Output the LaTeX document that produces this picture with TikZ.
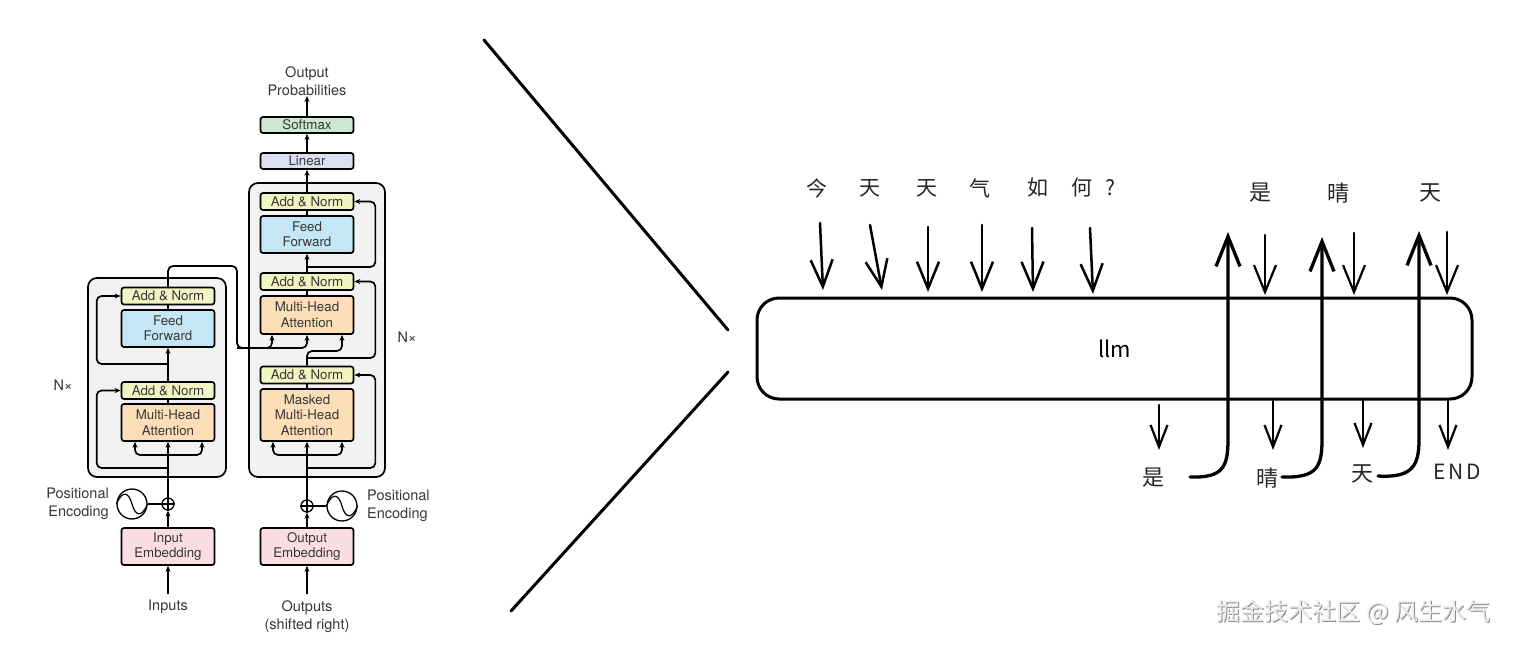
\documentclass[tikz,border=0pt]{standalone}
\usepackage{fontspec}
\setmainfont{TeX Gyre Heros}
\newfontfamily\cjk{Noto Sans CJK SC}
\usetikzlibrary{arrows.meta}
\definecolor{anY}{RGB}{241,245,196}
\definecolor{ffB}{RGB}{196,230,245}
\definecolor{mhO}{RGB}{252,223,184}
\definecolor{emP}{RGB}{250,222,226}
\definecolor{smG}{RGB}{204,232,210}
\definecolor{liV}{RGB}{221,222,240}
\definecolor{bxG}{RGB}{242,242,242}
\definecolor{txt}{RGB}{55,55,55}
\definecolor{wmL}{RGB}{236,236,236}
\definecolor{wmD}{RGB}{140,140,140}
\tikzset{
  blk/.style={draw=black, line width=1.7pt, rounded corners=2.5pt, minimum width=93pt, inner sep=0pt, align=center, text=txt, font=\fontsize{13.3}{15.5}\selectfont},
  an/.style={blk, fill=anY, minimum height=17pt},
  tall/.style={blk, minimum height=37pt},
  grp/.style={draw=black, fill=bxG, line width=1.7pt, rounded corners=9pt, inner sep=0pt},
  lbl/.style={text=txt, font=\fontsize{14.5}{18.5}\selectfont, align=center, inner sep=0pt},
  tarr/.style={-{Stealth[length=6pt,width=5pt]}, line width=1.7pt},
  tline/.style={line width=1.7pt},
  rc/.style={rounded corners=5pt},
  ring/.style={circle, draw=black, line width=1.3pt, inner sep=0pt},
  hw/.style={font=\cjk\fontsize{21}{21}\selectfont, inner sep=0pt, text=black!85},
  hd/.style={line width=2.5pt, line cap=round, -{Straight Barb[length=27pt,width=22pt]}},
  hu/.style={line width=3.3pt, line cap=round, -{Straight Barb[length=30pt,width=24pt]}},
  hs/.style={line width=2.2pt, line cap=round, -{Straight Barb[length=22pt,width=17pt]}},
  slash/.style={line width=3pt, line cap=round},
}
\begin{document}
\begin{tikzpicture}[x=1pt,y=-1pt]
\useasboundingbox (0,0) rectangle (1516,647);
\fill[white] (0,0) rectangle (1516,647);

% ---------------- encoder ----------------
\node[grp, minimum width=138pt, minimum height=199pt] (encBox) at (157,377.5) {};
\node[an] (eAN2) at (168,296) {Add \& Norm};
\node[tall, fill=ffB] (eFF) at (168,328.5) {Feed\\Forward};
\node[an] (eAN1) at (168,390.5) {Add \& Norm};
\node[tall, fill=mhO] (eMHA) at (168,422.5) {Multi-Head\\Attention};
\node[tall, fill=emP] (eEmb) at (168,546.5) {Input\\Embedding};
\node[lbl] (eIn) at (168,607) {Inputs};
\node[ring, minimum size=12pt] (ePlus) at (168,504) {};
\draw[line width=1.1pt] (ePlus.north) -- (ePlus.south) (ePlus.west) -- (ePlus.east);
\node[ring, minimum size=30pt] (eSin) at (132,504) {};
\draw[line width=1.2pt] (eSin.west) .. controls (123,489) and (129,493) .. (eSin.center) .. controls (135,515) and (141,519) .. (eSin.east);
\node[lbl, align=right, anchor=east] (ePE) at (109,504) {Positional\\Encoding};
\node[lbl] (eNx) at (63,385) {N×};

\draw[tarr, shorten <=6pt] (eIn.north) -- (eEmb.south);
\draw[tarr] (eEmb.north) -- (ePlus.south);
\draw[tline] (eSin.east) -- (ePlus.west);
\draw[tarr] (ePlus.north) -- (eMHA.south);
\coordinate (eBr) at (168,455);
\draw[tarr, rc] (eBr) -| ([xshift=-33pt]eMHA.south);
\draw[tarr, rc] (eBr) -| ([xshift=34pt]eMHA.south);
\coordinate (eR1) at (168,468);
\draw[tarr, rc] (eR1) -| ([xshift=-24pt]eAN1.west) -- (eAN1.west);
\draw[tline] (eMHA.north) -- (eAN1.south);
\draw[tarr] (eAN1.north) -- (eFF.south);
\coordinate (eR2) at (168,364);
\draw[tarr, rc] (eR2) -| ([xshift=-24pt]eAN2.west) -- (eAN2.west);
\draw[tline] (eFF.north) -- (eAN2.south);

% ---------------- decoder ----------------
\node[grp, minimum width=136pt, minimum height=294pt] (decBox) at (317,330) {};
\node[an] (dAN3) at (307,201.5) {Add \& Norm};
\node[tall, fill=ffB] (dFF) at (307,234.5) {Feed\\Forward};
\node[an] (dAN2) at (307,281.5) {Add \& Norm};
\node[tall, fill=mhO, minimum height=38pt] (dMHA) at (307,315) {Multi-Head\\Attention};
\node[an] (dAN1) at (307,375) {Add \& Norm};
\node[blk, fill=mhO, minimum height=52pt] (dMMHA) at (307,415) {Masked\\Multi-Head\\Attention};
\node[tall, fill=emP] (dEmb) at (307,546.5) {Output\\Embedding};
\node[lbl] (dOut) at (307,616.5) {Outputs\\(shifted right)};
\node[blk, fill=liV, minimum height=16pt] (dLin) at (307,161) {Linear};
\node[blk, fill=smG, minimum height=16pt] (dSoft) at (307,125) {Softmax};
\node[lbl] (dProb) at (307,81) {Output\\Probabilities};
\node[ring, minimum size=12pt] (dPlus) at (307,506) {};
\draw[line width=1.1pt] (dPlus.north) -- (dPlus.south) (dPlus.west) -- (dPlus.east);
\node[ring, minimum size=30pt] (dSin) at (342,506) {};
\draw[line width=1.2pt] (dSin.west) .. controls (333,491) and (339,495) .. (dSin.center) .. controls (345,517) and (351,521) .. (dSin.east);
\node[lbl, align=left, anchor=west] (dPE) at (367,506) {Positional\\Encoding};
\node[lbl] (dNx) at (407,337) {N×};

\draw[tarr, shorten <=6pt] (dOut.north) -- (dEmb.south);
\draw[tarr] (dEmb.north) -- (dPlus.south);
\draw[tline] (dSin.west) -- (dPlus.east);
\draw[tarr] (dPlus.north) -- (dMMHA.south);
\coordinate (dBr) at (307,455);
\draw[tarr, rc] (dBr) -| ([xshift=-34pt]dMMHA.south);
\draw[tarr, rc] (dBr) -| ([xshift=35pt]dMMHA.south);
\coordinate (dR1) at (307,468);
\draw[tarr, rc] (dR1) -| ([xshift=21pt]dAN1.east) -- (dAN1.east);
\draw[tline] (dMMHA.north) -- (dAN1.south);
\coordinate (dQ) at (307,351);
\draw[tarr, rc] (dAN1.north) -- (dQ) -| ([xshift=35pt]dMHA.south);
\coordinate (dR2) at (307,358);
\draw[tarr, rc] (dR2) -| ([xshift=21pt]dAN2.east) -- (dAN2.east);
\draw[tline] (dMHA.north) -- (dAN2.south);
\draw[tarr] (dAN2.north) -- (dFF.south);
\coordinate (dR3) at (307,267);
\draw[tarr, rc] (dR3) -| ([xshift=21pt]dAN3.east) -- (dAN3.east);
\draw[tline] (dFF.north) -- (dAN3.south);
\draw[tarr] (dAN3.north) -- (dLin.south);
\draw[tarr] (dLin.north) -- (dSoft.south);
\draw[tarr] (dSoft.north) -- (dProb.south);

% encoder output into decoder
\coordinate (eo1) at (237,266);
\coordinate (eo2) at (237,348);
\draw[tarr, rc] (eAN2.north) |- (eo1) -- (eo2) -| (dMHA.south);
\draw[tarr, rc] (eo2) -| ([xshift=-35pt]dMHA.south);

% ---------------- zoom lines ----------------
\coordinate (m1) at (484,40);
\coordinate (m2) at (728,330);
\coordinate (m3) at (728,372);
\coordinate (m4) at (511,611);
\draw[slash] (m1) -- (m2);
\draw[slash] (m3) -- (m4);

% ---------------- llm sketch ----------------
\node[draw, line width=3pt, rounded corners=22pt, minimum width=715pt, minimum height=101pt, font=\cjk\fontsize{22}{22}\selectfont] (llm) at (1114.5,348.5) {llm};

\node[hw] (c1) at (817,188) {今};
\node[hw] (c2) at (870,188) {天};
\node[hw] (c3) at (927,188) {天};
\node[hw] (c4) at (980,188) {气};
\node[hw] (c5) at (1038,188) {如};
\node[hw] (c6) at (1082,188) {何};
\node[hw] (c7) at (1110,188) {?};

\coordinate (a1s) at (820,223); \coordinate (a1e) at (823,290);
\coordinate (a2s) at (870,225); \coordinate (a2e) at (882,290);
\coordinate (a3s) at (928,227); \coordinate (a3e) at (928,292);
\coordinate (a4s) at (982,225); \coordinate (a4e) at (982,292);
\coordinate (a5s) at (1032,228); \coordinate (a5e) at (1033,292);
\coordinate (a6s) at (1090,228); \coordinate (a6e) at (1093,294);
\draw[hd] (a1s) -- (a1e);
\draw[hd] (a2s) -- (a2e);
\draw[hd] (a3s) -- (a3e);
\draw[hd] (a4s) -- (a4e);
\draw[hd] (a5s) -- (a5e);
\draw[hd] (a6s) -- (a6e);

\node[hw, font=\cjk\fontsize{22}{22}\selectfont] (r1) at (1260,193) {是};
\node[hw, font=\cjk\fontsize{22}{22}\selectfont] (r2) at (1338,193) {晴};
\node[hw, font=\cjk\fontsize{22}{22}\selectfont] (r3) at (1430,193) {天};

\coordinate (b1s) at (1265,235); \coordinate (b1e) at (1265,295);
\coordinate (b2s) at (1354,233); \coordinate (b2e) at (1354,295);
\coordinate (b3s) at (1447,232); \coordinate (b3e) at (1447,295);
\draw[hd, line width=2.2pt] (b1s) -- (b1e);
\draw[hd, line width=2.2pt] (b2s) -- (b2e);
\draw[hd, line width=2.2pt] (b3s) -- (b3e);

\node[hw, font=\cjk\fontsize{22}{22}\selectfont] (o1) at (1153,478) {是};
\node[hw, font=\cjk\fontsize{22}{22}\selectfont] (o2) at (1267,478) {晴};
\node[hw, font=\cjk\fontsize{22}{22}\selectfont] (o3) at (1362,474) {天};
\node[hw, font=\cjk\fontsize{21}{21}\selectfont\addfontfeatures{LetterSpace=14}] (o4) at (1457,472) {END};

\coordinate (d1s) at (1159,405); \coordinate (d1e) at (1159,450);
\coordinate (d2s) at (1273,401); \coordinate (d2e) at (1273,450);
\coordinate (d3s) at (1363,401); \coordinate (d3e) at (1363,448);
\coordinate (d4s) at (1448,401); \coordinate (d4e) at (1448,450);
\draw[hs] (d1s) -- (d1e);
\draw[hs] (d2s) -- (d2e);
\draw[hs] (d3s) -- (d3e);
\draw[hs] (d4s) -- (d4e);

\coordinate (u1s) at (1190,477); \coordinate (u1t) at (1228,232);
\coordinate (u2s) at (1282,477); \coordinate (u2t) at (1322,237);
\coordinate (u3s) at (1378,476); \coordinate (u3t) at (1419,231);
\draw[hu] (u1s) .. controls (1222,478) and (1228,468) .. (1228,440) -- (u1t);
\draw[hu] (u2s) .. controls (1316,478) and (1322,468) .. (1322,440) -- (u2t);
\draw[hu] (u3s) .. controls (1412,478) and (1419,466) .. (1419,440) -- (u3t);

% ---------------- watermark ----------------
\node[font=\cjk\fontsize{24}{24}\selectfont, text=wmD, inner sep=0pt] (wmS) at (1354.7,613.7) {掘金技术社区 @ 风生水气};
\node[font=\cjk\fontsize{24}{24}\selectfont, text=wmL, inner sep=0pt] (wm) at (1353.7,612.7) {掘金技术社区 @ 风生水气};
\end{tikzpicture}
\end{document}
